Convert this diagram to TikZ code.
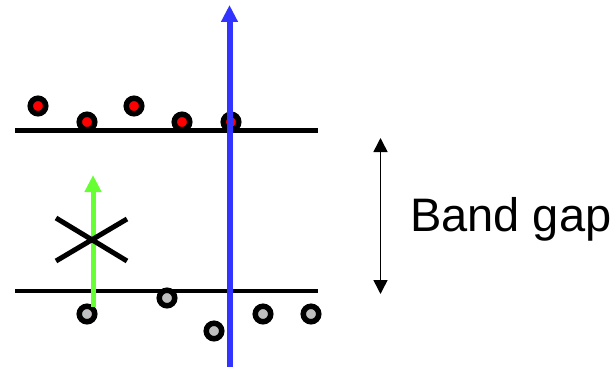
\documentclass[tikz,border=0pt]{standalone}
\usepackage{fontspec}
\setmainfont{Liberation Sans}
\usetikzlibrary{arrows.meta}
\definecolor{c1}{HTML}{000000}
\definecolor{eblue}{HTML}{3333FF}
\definecolor{egreen}{HTML}{66FF33}
\definecolor{hgray}{HTML}{C0C0C0}

\begin{document}
\begin{tikzpicture}[x=1pt, y=-1pt,
    band/.style={c1, line width=4.5pt},
    elec/.style={circle, draw=c1, line width=5.5pt, fill=red, minimum size=15.5pt, inner sep=0pt},
    hole/.style={elec, fill=hgray},
    jump/.style={line width=5pt, -{Triangle[length=17pt, width=16pt]}},
    gap/.style={c1, line width=1.5pt, {Triangle[length=14pt, width=14pt]}-{Triangle[length=14pt, width=14pt]}},
]
\useasboundingbox (0,0) rectangle (616,369);

% the two band edges
\coordinate (cbl) at (15,130.5);
\coordinate (cbr) at (318,130.5);
\coordinate (vbl) at (15,291);
\coordinate (vbr) at (318,291);
\draw[band] (cbl) -- (cbr);
\draw[band] (vbl) -- (vbr);

% electrons above, holes below
\foreach \x/\y [count=\i] in {38/106, 87/122, 134/106, 182/122, 231/122}{
    \node[elec] (e\i) at (\x,\y) {};
}
\foreach \x/\y [count=\i] in {87/314, 167/298, 214/331, 263/314, 311/314}{
    \node[hole] (h\i) at (\x,\y) {};
}

% the jump that is not allowed
\coordinate (gfoot) at (93,307);
\coordinate (gtip) at (93,175);
\draw[jump, egreen] (gfoot) -- (gtip);
\draw[c1, line width=5pt] (56,218) -- (127,261) (56,261) -- (127,219);

% the jump that is
\coordinate (bfoot) at (229.5,367);
\coordinate (btip) at (229.5,5);
\draw[jump, eblue, line width=6pt] (bfoot) -- (btip);

% the gap
\coordinate (gtop) at (380.5,138);
\coordinate (gbot) at (380.5,294);
\draw[gap] (gtop) -- (gbot);
\node[anchor=base west, inner sep=0pt, font=\fontsize{47}{50}\selectfont] (gaplabel) at (410,231) {Band gap};
\end{tikzpicture}
\end{document}
